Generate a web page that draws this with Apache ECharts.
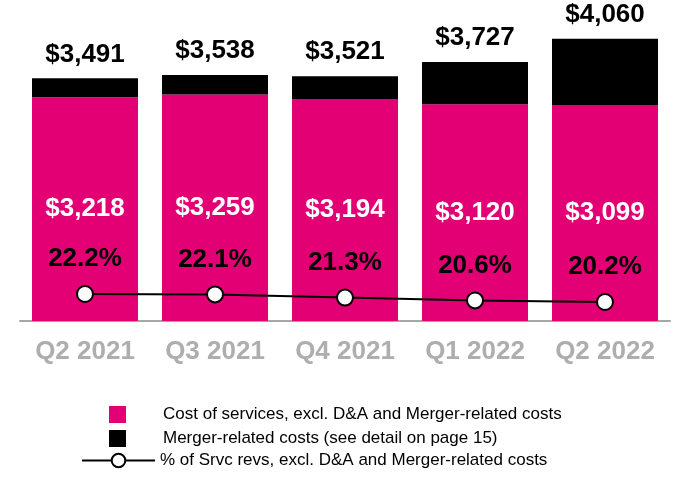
<!DOCTYPE html>
<html>
<head>
<meta charset="utf-8">
<script src="https://cdn.jsdelivr.net/npm/echarts@6/dist/echarts.min.js"></script>
<style>
  html, body { margin: 0; padding: 0; background: #fff; }
  #chart { width: 690px; height: 500px; }
</style>
</head>
<body>
<div id="chart"></div>
<script>
const quarters = ["Q2 2021", "Q3 2021", "Q4 2021", "Q1 2022", "Q2 2022"];
const costOfServices = [3218, 3259, 3194, 3120, 3099];
const mergerCosts = [273, 279, 327, 607, 961];
const totals = [3491, 3538, 3521, 3727, 4060];
const pctOfServiceRevs = [22.2, 22.1, 21.3, 20.6, 20.2];

const MAGENTA = "#E20074";
const FONT = "'Liberation Sans', Arial, sans-serif";

const money = (v) => "$" + v.toLocaleString("en-US");

const option = {
  animation: false,
  textStyle: { fontFamily: FONT },
  grid: { left: 20, right: 20, top: 21, bottom: 179, containLabel: false },
  legend: [
    {
      data: ["Cost of services, excl. D&A and Merger-related costs"],
      left: 104, top: 401,
      icon: "rect",
      itemWidth: 17, itemHeight: 17,
      selectedMode: false,
      textStyle: { fontFamily: FONT, fontSize: 17, color: "#000", padding: [0, 0, 0, 32] },
    },
    {
      data: ["Merger-related costs (see detail on page 15)"],
      left: 104, top: 425,
      icon: "rect",
      itemWidth: 17, itemHeight: 17,
      selectedMode: false,
      textStyle: { fontFamily: FONT, fontSize: 17, color: "#000", padding: [0, 0, 0, 32] },
    },
    {
      data: ["% of Srvc revs, excl. D&A and Merger-related costs"],
      left: 76, top: 447,
      itemWidth: 73, itemHeight: 17,
      selectedMode: false,
      textStyle: { fontFamily: FONT, fontSize: 17, color: "#000" },
    },
  ],
  xAxis: {
    type: "category",
    data: quarters,
    axisLine: { lineStyle: { color: "#A6A6A6", width: 2 } },
    axisTick: { show: false },
    axisLabel: {
      color: "#AEAEAE",
      fontSize: 26,
      fontWeight: "bold",
      fontFamily: FONT,
      margin: 18,
    },
  },
  yAxis: [
    { type: "value", min: 0, max: 4316, show: false },
    { type: "value", min: 15.45, max: 90.45, show: false },
  ],
  series: [
    {
      name: "Cost of services, excl. D&A and Merger-related costs",
      type: "bar",
      stack: "cost",
      barWidth: 106,
      data: costOfServices,
      itemStyle: { color: MAGENTA },
      label: {
        show: true,
        position: "inside",
        color: "#fff",
        fontSize: 26,
        fontWeight: "bold",
        fontFamily: FONT,
        formatter: (p) => money(p.value),
      },
    },
    {
      name: "Merger-related costs (see detail on page 15)",
      type: "bar",
      stack: "cost",
      barWidth: 106,
      data: mergerCosts,
      itemStyle: { color: "#000" },
      label: {
        show: true,
        position: "top",
        distance: 11,
        color: "#000",
        fontSize: 26,
        fontWeight: "bold",
        fontFamily: FONT,
        formatter: (p) => money(totals[p.dataIndex]),
      },
    },
    {
      name: "% of Srvc revs, excl. D&A and Merger-related costs",
      type: "line",
      yAxisIndex: 1,
      data: pctOfServiceRevs,
      symbol: "circle",
      symbolSize: 16,
      lineStyle: { color: "#000", width: 2 },
      itemStyle: { color: "#fff", borderColor: "#000", borderWidth: 2 },
      z: 5,
      label: {
        show: true,
        position: "top",
        distance: 13,
        color: "#000",
        fontSize: 26,
        fontWeight: "bold",
        fontFamily: FONT,
        formatter: (p) => p.value.toFixed(1) + "%",
      },
    },
  ],
};

const chart = echarts.init(document.getElementById("chart"));
chart.setOption(option);
</script>
</body>
</html>
